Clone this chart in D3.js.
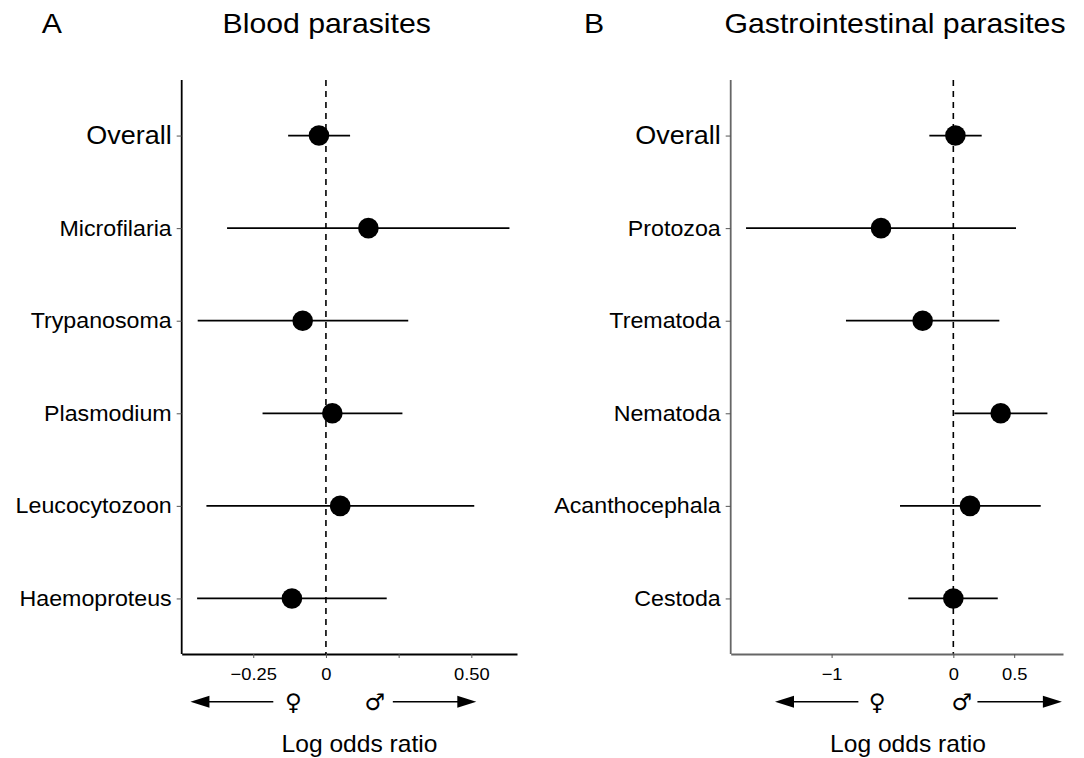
<!DOCTYPE html>
<html>
<head>
<meta charset="utf-8">
<script src="https://cdn.jsdelivr.net/npm/d3@7"></script>
<style>
  body { margin: 0; background: #fff; }
  text { font-family: "Liberation Sans", Arial, Helvetica, sans-serif; fill: #000; }
</style>
</head>
<body>
<svg id="chart" width="1084" height="758"></svg>
<script>
// values (log odds ratio, estimate and 95% CI)
var bloodCats = ['Overall', 'Microfilaria', 'Trypanosoma', 'Plasmodium', 'Leucocytozoon', 'Haemoproteus'];
var bloodEst  = [-0.024, 0.146, -0.080, 0.022, 0.049, -0.117];
var bloodLo   = [-0.130, -0.340, -0.441, -0.218, -0.411, -0.443];
var bloodHi   = [0.083, 0.631, 0.283, 0.263, 0.510, 0.209];
var bloodTicks = [-0.25, 0, 0.25, 0.5];
var bloodTickLabels = ['\u22120.25', '0', '', '0.50'];

var giCats = ['Overall', 'Protozoa', 'Trematoda', 'Nematoda', 'Acanthocephala', 'Cestoda'];
var giEst  = [0.017, -0.594, -0.252, 0.389, 0.137, 0.0];
var giLo   = [-0.197, -1.703, -0.882, 0.008, -0.438, -0.370];
var giHi   = [0.233, 0.515, 0.378, 0.773, 0.718, 0.365];
var giTicks = [-1, 0, 0.5];
var giTickLabels = ['\u22121', '0', '0.5'];

var svg = d3.select('#chart');

var panels = [
    {letter: 'A', title: 'Blood parasites', titleX: 326.7, letterX: 41.7,
     cats: bloodCats, est: bloodEst, lo: bloodLo, hi: bloodHi,
     ticks: bloodTicks, tickLabels: bloodTickLabels,
     domain: [-0.496, 0.657], range: [181.7, 517], axisColor: '#000',
     arrows: {leftTip: -0.466, leftTail: -0.181, fem: -0.112, male: 0.168, rightTail: 0.230, rightTip: 0.517},
     xlabX: 359.5},
    {letter: 'B', title: 'Gastrointestinal parasites', titleX: 895, letterX: 584,
     cats: giCats, est: giEst, lo: giLo, hi: giHi,
     ticks: giTicks, tickLabels: giTickLabels,
     domain: [-1.829, 0.901], range: [730.7, 1063], axisColor: '#666',
     arrows: {leftTip: -1.465, leftTail: -0.780, fem: -0.626, male: 0.069, rightTail: 0.198, rightTip: 0.892},
     xlabX: 908}
];

var yTop = 80, yBottom = 654;

// text in the figure is a little wider than Arial: stretch about the anchor point
function wide(k) {
    return function(sel) {
        sel.each(function() {
            var t = d3.select(this);
            var x = +t.attr('x') || 0, y = +t.attr('y') || 0;
            t.attr('x', 0).attr('y', 0)
             .attr('transform', 'translate(' + [x, y] + ') scale(' + k + ',1)');
        });
    };
}

panels.forEach(function(p) {
    var rows = p.cats.map(function(c, i) {
        return {cat: c, est: p.est[i], lo: p.lo[i], hi: p.hi[i]};
    });

    var x = d3.scaleLinear().domain(p.domain).range(p.range);
    // first category at the top
    var y = d3.scalePoint().domain(p.cats).range([yTop, yBottom]).padding(0.6);

    var g = svg.append('g');

    // titles
    g.append('text').attr('x', p.letterX).attr('y', 33)
        .style('font-size', '28px').text(p.letter).call(wide(1.08));
    g.append('text').attr('x', p.titleX).attr('y', 33)
        .attr('text-anchor', 'middle')
        .style('font-size', '28px').text(p.title).call(wide(1.08));

    // reference line at zero
    g.append('line')
        .attr('x1', x(0)).attr('x2', x(0))
        .attr('y1', yTop).attr('y2', yBottom)
        .attr('stroke', '#000').attr('stroke-width', 1.6)
        .attr('stroke-dasharray', '6,5');

    // y axis with category labels
    var yAxis = d3.axisLeft(y).tickSize(5).tickSizeOuter(0).tickPadding(5);
    var ya = g.append('g')
        .attr('transform', 'translate(' + p.range[0] + ',0)')
        .call(yAxis);
    ya.select('.domain').attr('stroke', p.axisColor).attr('stroke-width', 1.8)
        .attr('d', 'M0,' + yTop + 'V' + yBottom);
    ya.selectAll('.tick line').attr('stroke', '#555').attr('stroke-width', 1);
    ya.selectAll('.tick text')
        .style('font-size', function(d) { return d === 'Overall' ? '25px' : '21.5px'; })
        .attr('fill', '#000')
        .call(wide(1.08));

    // x axis
    var xAxis = d3.axisBottom(x).tickValues(p.ticks).tickSize(4).tickSizeOuter(0).tickPadding(10)
        .tickFormat(function(d, i) { return p.tickLabels[i]; });
    var xa = g.append('g')
        .attr('transform', 'translate(0,' + yBottom + ')')
        .call(xAxis);
    xa.select('.domain').attr('stroke', p.axisColor).attr('stroke-width', 1.8);
    xa.selectAll('.tick line').attr('stroke', '#555').attr('stroke-width', 1);
    xa.selectAll('.tick text').style('font-size', '17px').attr('fill', '#000')
        .attr('dy', null).attr('y', 26).call(wide(1.08));

    // error bars and points
    g.selectAll('.ci').data(rows).enter().append('line')
        .attr('class', 'ci')
        .attr('x1', function(d) { return x(d.lo); })
        .attr('x2', function(d) { return x(d.hi); })
        .attr('y1', function(d) { return y(d.cat); })
        .attr('y2', function(d) { return y(d.cat); })
        .attr('stroke', '#000').attr('stroke-width', 1.7);
    g.selectAll('.pt').data(rows).enter().append('circle')
        .attr('class', 'pt')
        .attr('cx', function(d) { return x(d.est); })
        .attr('cy', function(d) { return y(d.cat); })
        .attr('r', 10.3)
        .attr('fill', '#000');

    // direction arrows under the axis
    var ay = 701.7, head = 19, hw = 6;
    var a = p.arrows;
    g.append('line').attr('x1', x(a.leftTip) + head - 1).attr('x2', x(a.leftTail))
        .attr('y1', ay).attr('y2', ay).attr('stroke', '#000').attr('stroke-width', 1.6);
    g.append('path')
        .attr('d', 'M' + x(a.leftTip) + ',' + ay + 'L' + (x(a.leftTip) + head) + ',' + (ay - hw) +
                   'L' + (x(a.leftTip) + head) + ',' + (ay + hw) + 'Z')
        .attr('fill', '#000');
    g.append('line').attr('x1', x(a.rightTail)).attr('x2', x(a.rightTip) - head + 1)
        .attr('y1', ay).attr('y2', ay).attr('stroke', '#000').attr('stroke-width', 1.6);
    g.append('path')
        .attr('d', 'M' + x(a.rightTip) + ',' + ay + 'L' + (x(a.rightTip) - head) + ',' + (ay - hw) +
                   'L' + (x(a.rightTip) - head) + ',' + (ay + hw) + 'Z')
        .attr('fill', '#000');
    g.append('text').attr('x', x(a.fem)).attr('y', 710)
        .attr('text-anchor', 'middle')
        .style('font-family', '"DejaVu Sans", sans-serif').style('font-weight', 'bold')
        .style('font-size', '23px').text('\u2640');
    g.append('text').attr('x', x(a.male)).attr('y', 710)
        .attr('text-anchor', 'middle')
        .style('font-family', '"DejaVu Sans", sans-serif').style('font-weight', 'bold')
        .style('font-size', '23px').text('\u2642');

    // axis title
    g.append('text').attr('x', p.xlabX).attr('y', 752)
        .attr('text-anchor', 'middle')
        .style('font-size', '23px').text('Log odds ratio').call(wide(1.07));
});
</script>
</body>
</html>
